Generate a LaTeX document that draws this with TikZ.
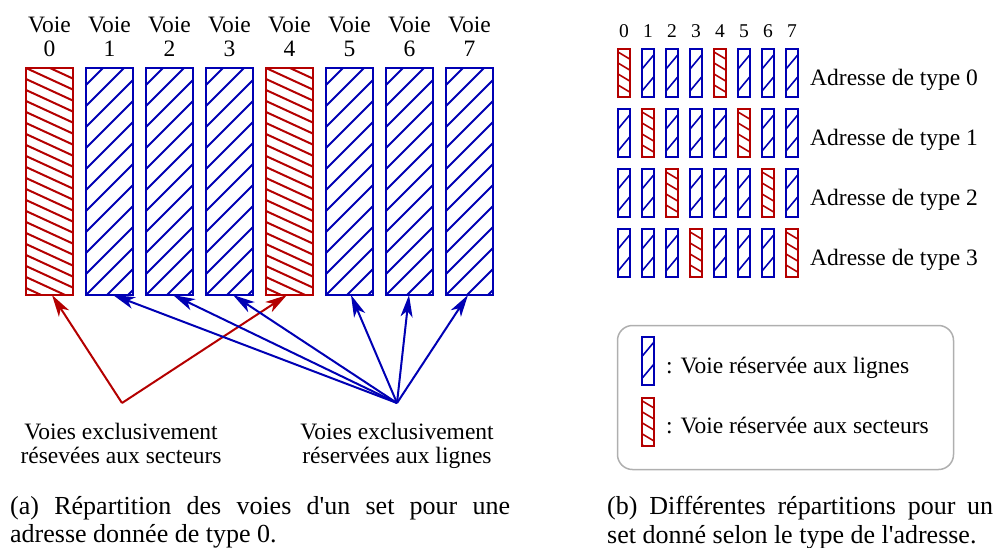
\documentclass[tikz,border=0pt]{standalone}
\usepackage{fontspec}
\newfontfamily\tms{Liberation Serif}
\newfontfamily\capfont{Liberation Serif}[Ligatures=TeXOff]
\usetikzlibrary{arrows.meta}
\definecolor{vred}{RGB}{180,0,0}
\definecolor{vblue}{RGB}{0,0,180}
\definecolor{lgray}{RGB}{175,175,175}
\tikzset{
  bigvoie/.style={draw, line width=2pt, minimum width=47pt, minimum height=227pt, inner sep=0pt, outer sep=0pt},
  bigblue/.style={bigvoie, draw=vblue, path picture={
     \foreach \k in {-3,...,13} \draw[vblue, line width=2pt] ([yshift=\k*21pt]path picture bounding box.south west) -- ++(80pt,80pt);}},
  bigred/.style={bigvoie, draw=vred, path picture={
     \foreach \k in {-6,...,23} \draw[vred, line width=2pt] ([yshift=-\k*11pt]path picture bounding box.north west) -- ++(80pt,-36.8pt);}},
  smallvoie/.style={draw, line width=2pt, minimum width=12pt, minimum height=48pt, inner sep=0pt, outer sep=0pt},
  smallblue/.style={smallvoie, draw=vblue, path picture={
     \foreach \k in {-2,...,3} \draw[vblue, line width=1.6pt] ([yshift=\k*22pt+6pt]path picture bounding box.south west) -- ++(20pt,24pt);}},
  smallred/.style={smallvoie, draw=vred, path picture={
     \foreach \k in {-2,...,5} \draw[vred, line width=1.6pt] ([yshift=-\k*11pt-3pt]path picture bounding box.north west) -- ++(20pt,-12pt);}},
  lab/.style={font=\tms\fontsize{23.5}{24}\selectfont, inner sep=0pt},
  numlab/.style={font=\tms\fontsize{19.5}{20}\selectfont, inner sep=0pt, anchor=base},
  arr/.style={line width=2pt, -{Stealth[length=22pt, width=12pt, inset=6pt]}},
  cap/.style={font=\capfont\fontsize{26}{28.5}\selectfont, inner sep=0pt, text width=#1, align=justify, anchor=north west},
}
\begin{document}
\begin{tikzpicture}[x=1pt, y=-1pt]
\useasboundingbox (0,0) rectangle (999,547);
% (a) voies
\foreach \i/\c in {0/red,1/blue,2/blue,3/blue,4/red,5/blue,6/blue,7/blue}{
  \node[big\c] (v\i) at ({49.5+60*\i},181.5) {};
  \node[lab, anchor=base] (t\i) at ({49.5+60*\i},32) {Voie};
  \node[lab, anchor=base] (n\i) at ({49.5+60*\i},56) {\i};
}
\coordinate (ra) at (122,403);
\coordinate (ba) at (397,403);
\draw[arr, vred] (ra) -- ([xshift=2.5pt]v0.south);
\draw[arr, vred] (ra) -- ([xshift=-2.5pt]v4.south);
\draw[arr, vblue] (ba) -- ([xshift=3.5pt]v1.south);
\draw[arr, vblue] (ba) -- ([xshift=3.5pt]v2.south);
\draw[arr, vblue] (ba) -- ([xshift=3.5pt]v3.south);
\draw[arr, vblue] (ba) -- ([xshift=1.5pt]v5.south);
\draw[arr, vblue] (ba) -- ([xshift=-0.5pt]v6.south);
\draw[arr, vblue] (ba) -- ([xshift=-1.5pt]v7.south);
\node[lab, align=center, anchor=base] (secteurs) at (121,463) {Voies exclusivement\\résevées aux secteurs};
\node[lab, align=center, anchor=base] (lignes) at (397,463) {Voies exclusivement\\réservées aux lignes};
% (b)
\foreach \i in {0,...,7}
  \node[numlab] (h\i) at ({624+24*\i},37) {\i};
\foreach \r/\a/\b in {0/0/4,1/1/5,2/2/6,3/3/7}{
  \foreach \i in {0,...,7}{
    \pgfmathtruncatemacro{\isred}{(\i==\a)||(\i==\b)}
    \ifnum\isred=1
      \node[smallred] (s\r\i) at ({624+24*\i},{73+60*\r}) {};
    \else
      \node[smallblue] (s\r\i) at ({624+24*\i},{73+60*\r}) {};
    \fi
  }
  \node[lab, anchor=base west] (type\r) at (810,{85+60*\r}) {Adresse de type \r};
}
% legend
\node[draw=lgray, line width=1.5pt, rounded corners=15pt, minimum width=336pt, minimum height=144pt, inner sep=0pt] (legend) at (785.5,397.5) {};
\node[smallblue] (legb) at (647.5,361) {};
\node[smallred] (legr) at (647.5,421.5) {};
\node[lab, anchor=base west] (legbt) at (666,373) {: Voie réservée aux lignes};
\node[lab, anchor=base west] (legrt) at (666,433) {: Voie réservée aux secteurs};
% captions
\node[cap=500pt] (capa) at (10,496) {(a) Répartition des voies d'un set pour une\linebreak adresse donnée de type 0.};
\node[cap=386pt] (capb) at (607,496) {(b) Différentes répartitions pour un\linebreak set donné selon le type de l'adresse.};
\end{tikzpicture}
\end{document}
